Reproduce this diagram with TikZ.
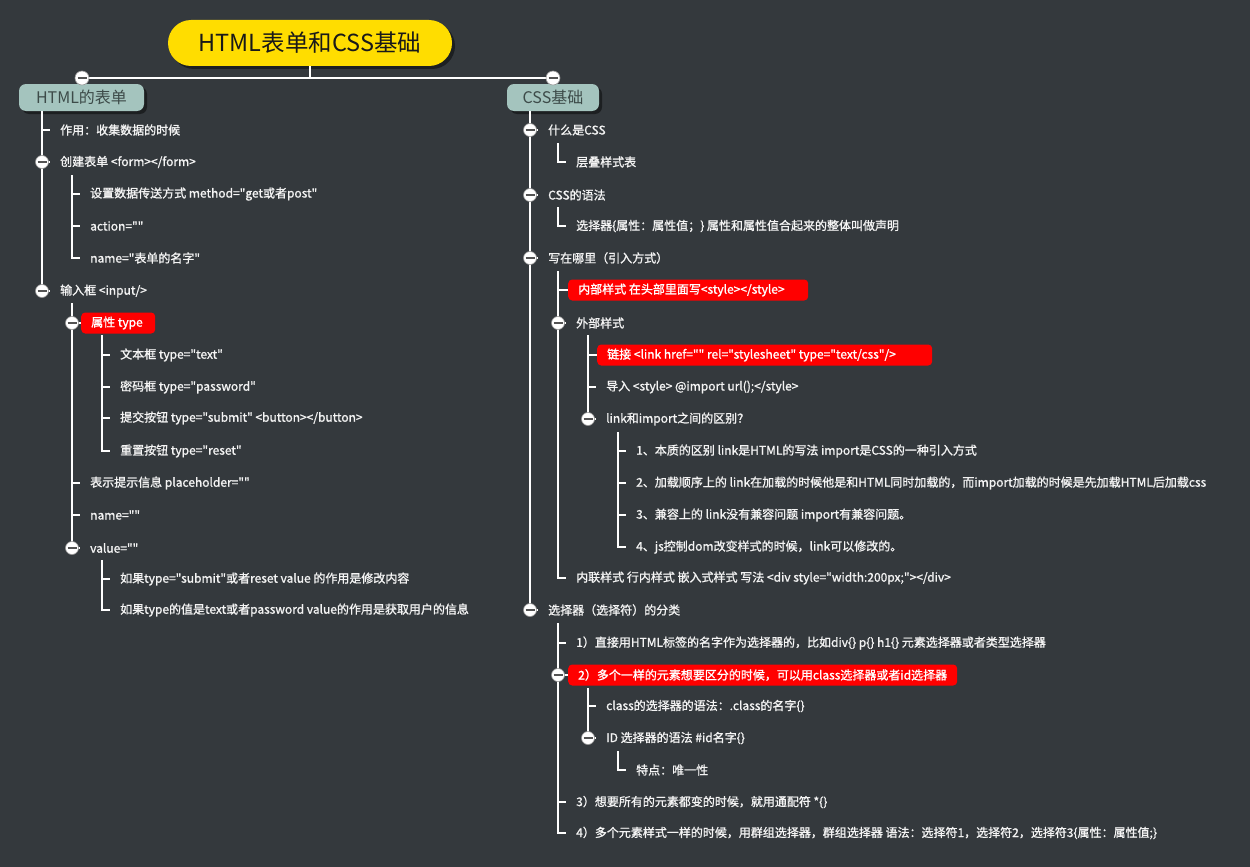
\documentclass[tikz,border=0pt]{standalone}
\usepackage{fontspec}
\setmainfont{Noto Sans CJK SC}[Ligatures=TeXOff]
\newfontfamily\bodyfont{Noto Sans CJK SC}[Ligatures=TeXOff, FakeBold=1.2]
\usetikzlibrary{shadows}
\definecolor{bg}{HTML}{34393D}
\definecolor{txt}{HTML}{F4F4F4}
\definecolor{branchfill}{HTML}{A4C4BE}
\definecolor{branchtxt}{HTML}{3D4B49}
\definecolor{titlefill}{HTML}{FFDD00}
\definecolor{hlred}{HTML}{FF0000}
\tikzset{
  conn/.style={draw=white, line width=1.9pt},
  mainline/.style={draw=white, line width=2.6pt},
  item/.style={anchor=west, text=txt, font=\bodyfont\fontsize{12}{14}\selectfont, inner xsep=10pt, inner ysep=2pt},
  hl/.style={item, fill=hlred, rounded corners=4pt, inner ysep=0pt, minimum height=21pt, text=white},
  tog/.style={circle, fill=white, draw=gray!80, line width=0.6pt, inner sep=0pt, minimum size=13pt,
    path picture={\draw[line width=2.4pt, gray!65!black] ([xshift=-4.5pt]path picture bounding box.center) -- ([xshift=4.5pt]path picture bounding box.center);}},
  branch/.style={fill=branchfill, rounded corners=7pt, text=branchtxt, font=\fontsize{16}{18}\selectfont,
    minimum height=27pt, inner sep=0pt, drop shadow={shadow xshift=3pt, shadow yshift=-3pt, opacity=0.45, fill=black}},
}
\begin{document}
\begin{tikzpicture}[x=1pt,y=-1pt]
\fill[bg] (0,0) rectangle (1250,867);
\useasboundingbox (0,0) rectangle (1250,867);

% title
\node[fill=titlefill, rounded corners=23pt, minimum width=284pt, minimum height=46pt, inner sep=0pt,
  font=\fontsize{23.5}{25}\selectfont, text=black!90,
  drop shadow={shadow xshift=3pt, shadow yshift=-3pt, opacity=0.45, fill=black}] (title) at (310,43) {HTML表单和CSS基础};

\coordinate (jl) at (82,78);
\coordinate (jr) at (553,78);
\coordinate (jm) at (310,78);
\draw[mainline] (title.south) -- (jm);
\draw[mainline] (jl) -- (jr);

\node[branch, minimum width=125pt] (hb) at (81.5,97.5) {HTML的表单};
\node[branch, minimum width=92pt] (cb) at (553,97.5) {CSS基础};
\node[tog, minimum size=14pt] (tl) at (jl) {};
\node[tog, minimum size=14pt] (tr) at (jr) {};

% ================= left tree =================
\coordinate (hs) at (42,111);
\node[item] (l1a) at (50,130) {作用：收集数据的时候};
\node[item] (l1b) at (50,162) {创建表单 <form></form>};
\node[item] (l1c) at (50,291) {输入框 <input/>};
\draw[conn] (hs) |- (l1a.west);
\draw[conn] (hs) |- (l1b.west);
\draw[conn] (hs) |- (l1c.west);
\node[tog] (tl1b) at (hs |- l1b.west) {};
\node[tog] (tl1c) at (hs |- l1c.west) {};

\coordinate (fs) at (72,175);
\node[item] (f1) at (80,194) {设置数据传送方式 method="get或者post"};
\node[item] (f2) at (80,226) {action=""};
\node[item] (f3) at (80,258) {name="表单的名字"};
\draw[conn] (fs) |- (f1.west);
\draw[conn] (fs) |- (f2.west);
\draw[conn] (fs) |- (f3.west);

\coordinate (is) at (72,303);
\node[hl] (i1) at (81,323) {\makebox[54pt][l]{属性 type}};
\node[item] (i2) at (80,483) {表示提示信息 placeholder=""};
\node[item] (i3) at (80,515) {name=""};
\node[item] (i4) at (80,548) {value=""};
\draw[conn] (is) |- (i1.west);
\draw[conn] (is) |- (i2.west);
\draw[conn] (is) |- (i3.west);
\draw[conn] (is) |- (i4.west);
\node[tog] (ti1) at (is |- i1.west) {};
\node[tog] (ti4) at (is |- i4.west) {};

\coordinate (ts) at (102,335);
\node[item] (t1) at (110,355) {文本框 type="text"};
\node[item] (t2) at (110,387) {密码框 type="password"};
\node[item] (t3) at (110,418) {提交按钮 type="submit" <button></button>};
\node[item] (t4) at (110,451) {重置按钮 type="reset"};
\draw[conn] (ts) |- (t1.west);
\draw[conn] (ts) |- (t2.west);
\draw[conn] (ts) |- (t3.west);
\draw[conn] (ts) |- (t4.west);

\coordinate (vs) at (102,560);
\node[item] (v1) at (110,579) {如果type="submit"或者reset value 的作用是修改内容};
\node[item] (v2) at (110,610) {如果type的值是text或者password value的作用是获取用户的信息};
\draw[conn] (vs) |- (v1.west);
\draw[conn] (vs) |- (v2.west);

% ================= right tree =================
\coordinate (cs) at (530,111);
\node[item] (r1) at (538,130) {什么是CSS};
\node[item] (r2) at (538,195) {CSS的语法};
\node[item] (r3) at (538,258) {写在哪里（引入方式）};
\node[item] (r4) at (538,610) {选择器（选择符）的分类};
\draw[conn] (cs) |- (r1.west);
\draw[conn] (cs) |- (r2.west);
\draw[conn] (cs) |- (r3.west);
\draw[conn] (cs) |- (r4.west);
\node[tog] (tr1) at (cs |- r1.west) {};
\node[tog] (tr2) at (cs |- r2.west) {};
\node[tog] (tr3) at (cs |- r3.west) {};
\node[tog] (tr4) at (cs |- r4.west) {};

\coordinate (r1s) at (558,143);
\node[item] (r1a) at (566,162) {层叠样式表};
\draw[conn] (r1s) |- (r1a.west);

\coordinate (r2s) at (558,207);
\node[item] (r2a) at (566,226) {选择器\{属性：属性值；\} 属性和属性值合起来的整体叫做声明};
\draw[conn] (r2s) |- (r2a.west);

\coordinate (r3s) at (558,271);
\node[hl] (r3a) at (568,290) {\makebox[220pt][l]{内部样式 在头部里面写<style></style>}};
\node[item] (r3b) at (566,323) {外部样式};
\node[item] (r3c) at (566,578) {内联样式 行内样式 嵌入式样式 写法 <div style="width:200px;"></div>};
\draw[conn] (r3s) |- (r3a.west);
\draw[conn] (r3s) |- (r3b.west);
\draw[conn] (r3s) |- (r3c.west);
\node[tog] (tr3b) at (r3s |- r3b.west) {};

\coordinate (ws) at (588,335);
\node[hl] (w1) at (597,355) {\makebox[315pt][l]{链接 <link href="" rel="stylesheet" type="text/css"/>}};
\node[item] (w2) at (596,387) {导入 <style> @import url();</style>};
\node[item] (w3) at (596,419) {link和import之间的区别？};
\draw[conn] (ws) |- (w1.west);
\draw[conn] (ws) |- (w2.west);
\draw[conn] (ws) |- (w3.west);
\node[tog] (tw3) at (ws |- w3.west) {};

\coordinate (ds) at (618,432);
\node[item] (d1) at (626,451) {1、本质的区别 link是HTML的写法 import是CSS的一种引入方式};
\node[item] (d2) at (626,483) {2、加载顺序上的 link在加载的时候他是和HTML同时加载的，而import加载的时候是先加载HTML后加载css};
\node[item] (d3) at (626,515) {3、兼容上的 link没有兼容问题 import有兼容问题。};
\node[item] (d4) at (626,547) {4、js控制dom改变样式的时候，link可以修改的。};
\draw[conn] (ds) |- (d1.west);
\draw[conn] (ds) |- (d2.west);
\draw[conn] (ds) |- (d3.west);
\draw[conn] (ds) |- (d4.west);

\coordinate (r4s) at (558,623);
\node[item] (s1) at (566,643) {1）直接用HTML标签的名字作为选择器的，比如div\{\} p\{\} h1\{\} 元素选择器或者类型选择器};
\node[hl] (s2) at (568,675) {\makebox[369pt][l]{2）多个一样的元素想要区分的时候，可以用class选择器或者id选择器}};
\node[item] (s3) at (566,802) {3）想要所有的元素都变的时候，就用通配符 *\{\}};
\node[item] (s4) at (566,833) {4）多个元素样式一样的时候，用群组选择器，群组选择器 语法：选择符1，选择符2，选择符3\{属性：属性值;\}};
\draw[conn] (r4s) |- (s1.west);
\draw[conn] (r4s) |- (s2.west);
\draw[conn] (r4s) |- (s3.west);
\draw[conn] (r4s) |- (s4.west);
\node[tog] (ts2) at (r4s |- s2.west) {};

\coordinate (s2s) at (588,688);
\node[item] (c1) at (596,706) {class的选择器的语法：.class的名字\{\}};
\node[item] (c2) at (596,738) {ID 选择器的语法 \#id名字\{\}};
\draw[conn] (s2s) |- (c1.west);
\draw[conn] (s2s) |- (c2.west);
\node[tog] (tc2) at (s2s |- c2.west) {};

\coordinate (c2s) at (618,751);
\node[item] (e1) at (626,770) {特点：唯一性};
\draw[conn] (c2s) |- (e1.west);
\end{tikzpicture}
\end{document}
